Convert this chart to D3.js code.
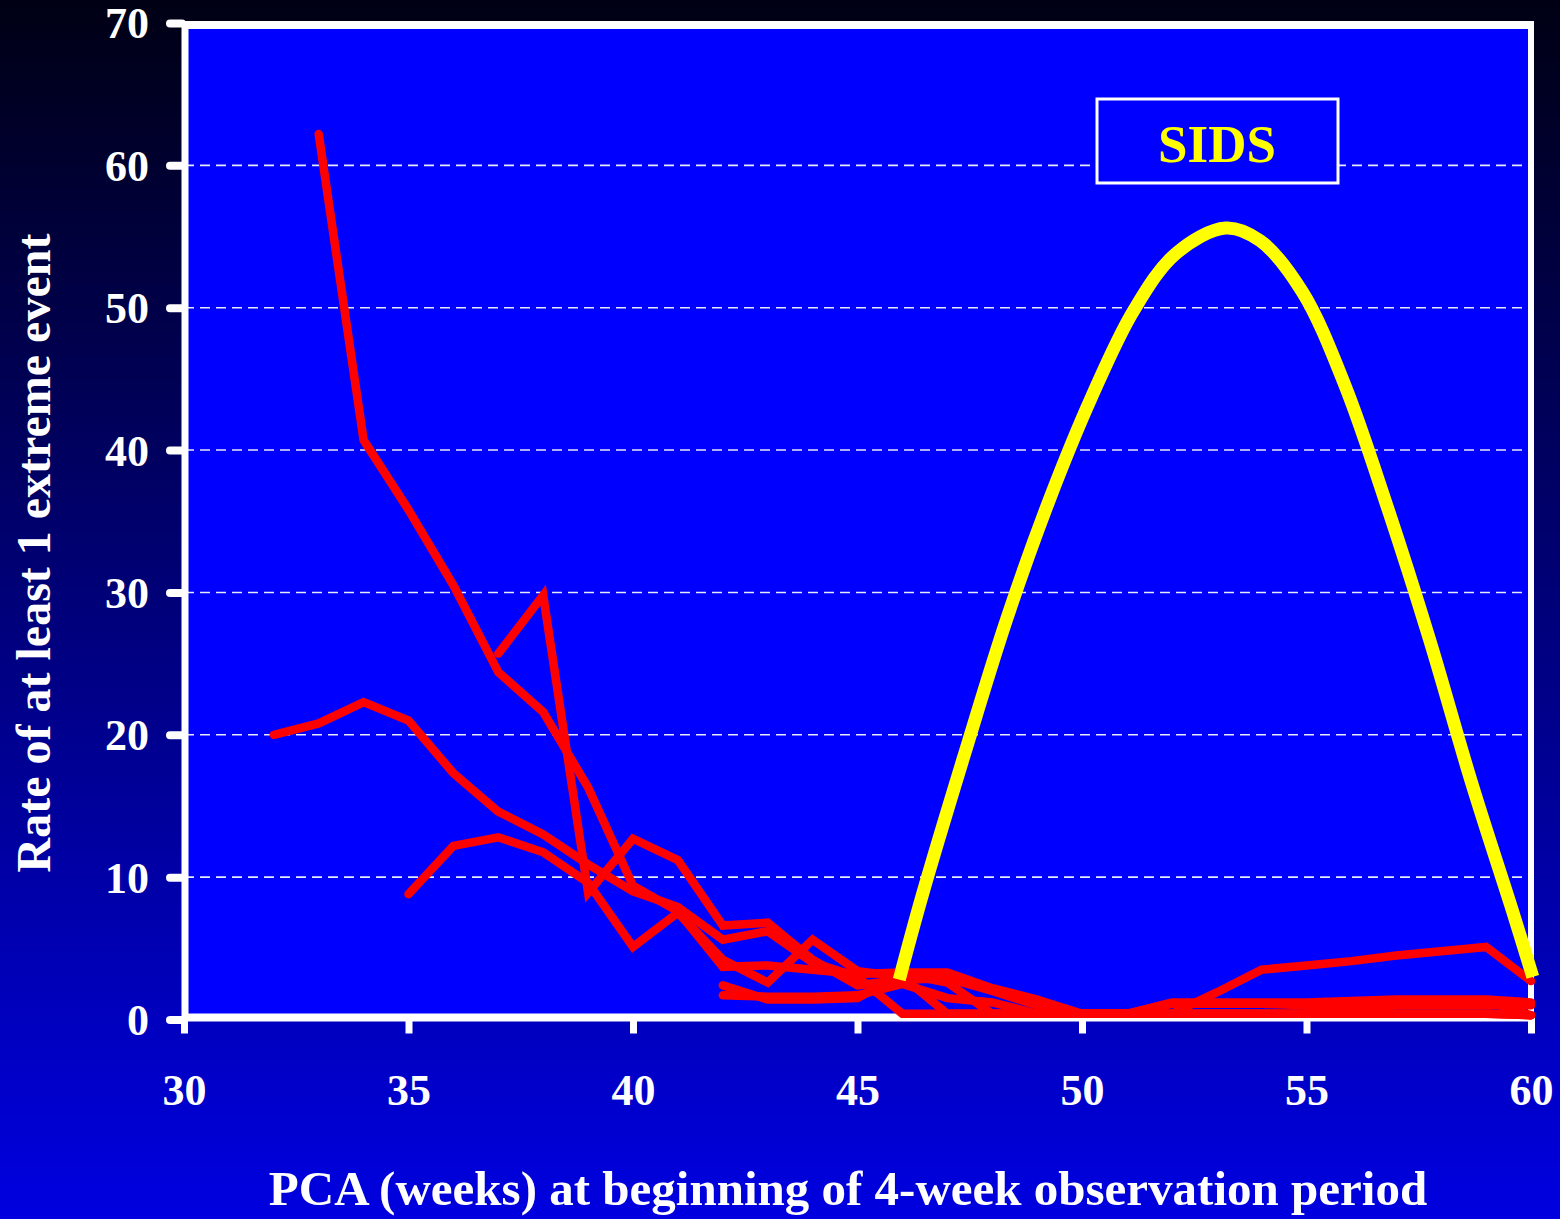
<!DOCTYPE html>
<html>
<head>
<meta charset="utf-8">
<script src="https://cdn.jsdelivr.net/npm/d3@7"></script>
<style>
  html, body { margin: 0; padding: 0; background: #000018; }
  svg { display: block; }
  text { font-family: "Liberation Serif", "Times New Roman", serif; font-weight: bold; }
</style>
</head>
<body>
<svg id="chart" width="1560" height="1219"></svg>
<script>
// Event rates (%) per infant group, one value per week of post-conceptional age from `start`
const groupA = { start: 32, values: [20.0, 20.8, 22.3, 21.0, 17.3, 14.6, 13.0, 10.9, 9.0, 7.9, 5.6, 6.2, 4.0, 3.0, 0.4, 0.4, 0.4, 0.4, 0.4, 0.4, 0.4, 0.4, 0.4, 0.4, 1.0, 0.4, 0.4, 0.4, 0.3] };
const groupB = { start: 33, values: [62.2, 40.7, 35.8, 30.5, 24.4, 21.6, 16.3, 9.4, 7.6, 3.7, 3.8, 3.5, 3.2, 3.3, 3.3, 2.2, 1.4, 0.4, 0.4, 1.2, 1.2, 1.2, 1.2, 1.3, 1.4, 1.4, 1.4, 1.2] };
const groupC = { start: 35, values: [8.8, 12.2, 12.8, 11.75, 9.6, 5.1, 7.5, 4.2, 2.6, 5.6, 3.4, 3.0, 0.4, 0.4, 0.4, 0.4, 0.4, 0.4, 0.4, 0.4, 0.4, 0.4, 0.4, 0.4, 0.4, 0.3] };
const groupD = { start: 37, values: [25.7, 29.8, 8.9, 12.7, 11.2, 6.6, 6.8, 4.2, 2.4, 2.8, 2.9, 2.0, 1.0, 0.4, 0.4, 0.4, 1.9, 3.5, 3.8, 4.1, 4.5, 4.8, 5.1, 2.7] };
const groupE = { start: 42, values: [2.4, 1.4, 1.4, 1.5, 3.2, 2.6, 0.4, 0.4, 0.4, 0.4, 0.4, 0.4, 0.4, 0.4, 1.0, 1.2, 1.2, 1.3, 0.3] };
const groupF = { start: 42, values: [1.7, 1.6, 1.6, 1.7, 2.5, 1.5, 1.2, 0.4, 0.4, 0.4, 1.1, 1.1, 1.1, 1.0, 1.0, 1.0, 1.0, 1.0, 1.0] };
const groups = [groupA, groupB, groupC, groupD, groupE, groupF];

// SIDS age distribution curve (week, rate)
const sidsWeeks  = [45.93, 46.44, 47.38, 48.32, 49.26, 50.21, 51.15, 52.09, 53.2, 53.97, 54.91, 55.85, 56.8, 57.74, 58.68, 59.62, 60.04];
const sidsValues = [2.8, 8.7, 18.6, 28.1, 36.4, 43.7, 49.8, 53.8, 55.6, 54.7, 51.1, 44.6, 36.0, 26.7, 16.6, 7.3, 3.0];

const yTicks = [0, 10, 20, 30, 40, 50, 60, 70];
const xTicks = [30, 35, 40, 45, 50, 55, 60];
const gridTicks = [10, 20, 30, 40, 50, 60];

const svg = d3.select("#chart");
const W = 1560, H = 1219;

// background gradient
const defs = svg.append("defs");
const grad = defs.append("linearGradient").attr("id", "bg").attr("x1", 0).attr("y1", 0).attr("x2", 0).attr("y2", 1);
grad.append("stop").attr("offset", "0%").attr("stop-color", "#000014");
grad.append("stop").attr("offset", "45%").attr("stop-color", "#000070");
grad.append("stop").attr("offset", "100%").attr("stop-color", "#0000e0");
svg.append("rect").attr("width", W).attr("height", H).attr("fill", "url(#bg)");

const x = d3.scaleLinear().domain([30, 60]).range([184, 1531]);
const y = d3.scaleLinear().domain([0, 70]).range([1019.5, 23]);

// plot area
svg.append("rect")
  .attr("x", x(30)).attr("y", y(70))
  .attr("width", x(60) - x(30)).attr("height", y(0) - y(70))
  .attr("fill", "#0000ff");

// dashed gridlines
svg.append("g").selectAll("line").data(gridTicks).join("line")
  .attr("x1", x(30)).attr("x2", x(60))
  .attr("y1", d => y(d)).attr("y2", d => y(d))
  .attr("stroke", "#e8e8ff").attr("stroke-width", 1.6)
  .attr("stroke-dasharray", "10,6");

// right and top frame
svg.append("line").attr("x1", x(60)).attr("x2", x(60)).attr("y1", y(70) - 2).attr("y2", y(0))
  .attr("stroke", "#fff").attr("stroke-width", 6);
svg.append("line").attr("x1", x(30)).attr("x2", x(60) + 3).attr("y1", y(70) + 2).attr("y2", y(70) + 2)
  .attr("stroke", "#fff").attr("stroke-width", 8);

// y axis
const yAxis = svg.append("g").attr("transform", `translate(${x(30) + 1},0)`)
  .call(d3.axisLeft(y).tickValues(yTicks).tickSize(15).tickPadding(20).tickFormat(d3.format("d")));
yAxis.select(".domain").attr("stroke", "#fff").attr("stroke-width", 7).attr("d", `M0,${y(70)}V${y(0)}`);
yAxis.selectAll(".tick line").attr("stroke", "#fff").attr("stroke-width", 8).attr("stroke-linecap", "round")
  .attr("x1", -3).attr("x2", -15);
yAxis.selectAll(".tick text").attr("fill", "#fff").attr("font-size", 44)
  .attr("font-family", "Liberation Serif, Times New Roman, serif").attr("font-weight", "bold")
  .attr("x", -36).attr("dy", "0.34em");

// x axis
const xAxis = svg.append("g").attr("transform", `translate(0,${y(0) - 2})`)
  .call(d3.axisBottom(x).tickValues(xTicks).tickSize(16).tickPadding(40).tickFormat(d3.format("d")));
xAxis.select(".domain").attr("stroke", "#fff").attr("stroke-width", 8).attr("d", `M${x(30) - 2},0H${x(60) + 3}`);
xAxis.selectAll(".tick line").attr("stroke", "#fff").attr("stroke-width", 7);
xAxis.selectAll(".tick text").attr("fill", "#fff").attr("font-size", 44)
  .attr("font-family", "Liberation Serif, Times New Roman, serif").attr("font-weight", "bold")
  .attr("y", 56).attr("dy", "0.71em");

// red group lines
const line = d3.line().x(d => x(d[0])).y(d => y(d[1]));
svg.append("g").selectAll("path").data(groups).join("path")
  .attr("d", g => line(g.values.map((v, i) => [g.start + i, v])))
  .attr("fill", "none").attr("stroke", "#ff0000").attr("stroke-width", 8.5)
  .attr("stroke-linecap", "round").attr("stroke-linejoin", "miter");

// SIDS curve
const sidsLine = d3.line().curve(d3.curveCatmullRom.alpha(0.5)).x(d => x(d[0])).y(d => y(d[1]));
svg.append("path")
  .attr("d", sidsLine(sidsWeeks.map((w, i) => [w, sidsValues[i]])))
  .attr("fill", "none").attr("stroke", "#ffff00").attr("stroke-width", 13);

// SIDS label box
svg.append("rect").attr("x", 1097).attr("y", 99).attr("width", 241).attr("height", 84)
  .attr("fill", "#0000ff").attr("stroke", "#fff").attr("stroke-width", 3);
svg.append("text").attr("x", 1217).attr("y", 143).attr("dy", "0.35em")
  .attr("text-anchor", "middle").attr("fill", "#ffff00").attr("font-size", 53).text("SIDS");

// axis titles
svg.append("text").attr("x", 848).attr("y", 1205).attr("text-anchor", "middle")
  .attr("fill", "#fff").attr("font-size", 49)
  .text("PCA (weeks) at beginning of 4-week observation period");
svg.append("text").attr("transform", "translate(50,553) rotate(-90)").attr("text-anchor", "middle")
  .attr("fill", "#fff").attr("font-size", 48)
  .text("Rate of at least 1 extreme event");
</script>
</body>
</html>
